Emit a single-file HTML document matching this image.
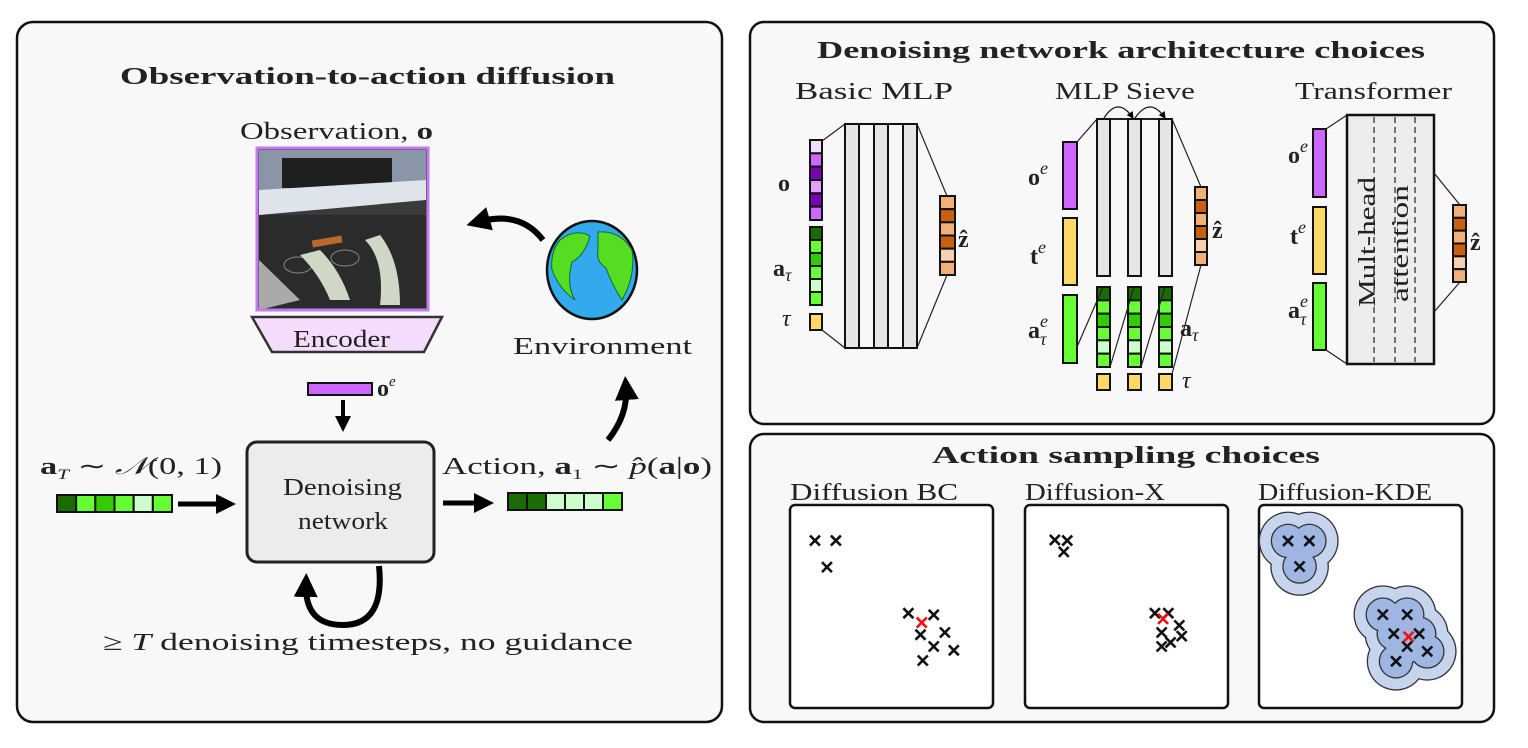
<!DOCTYPE html>
<html><head><meta charset="utf-8">
<style>
body{margin:0;background:#fff;}
svg{display:block;font-family:"Liberation Serif",serif;}
.t{font-size:24px;fill:#222;}
.b{font-weight:bold;}
</style></head>
<body>
<svg id="fig" width="1528" height="748" viewBox="0 0 1528 748">
<defs>
<marker id="ah" markerWidth="4" markerHeight="4" refX="2" refY="2" orient="auto" markerUnits="strokeWidth"><path d="M0,0 L4,2 L0,4 z" fill="#000"/></marker>
<marker id="sa" markerWidth="6" markerHeight="6" refX="5" refY="3" orient="auto"><path d="M0,0 L6,3 L0,6 z" fill="#000"/></marker>
</defs>

<!-- panels -->
<rect x="17" y="22" width="705" height="700" rx="16" fill="#f8f8f8" stroke="#111" stroke-width="2.5"/>
<rect x="750" y="22" width="744" height="402" rx="14" fill="#f8f8f8" stroke="#111" stroke-width="2.5"/>
<rect x="750" y="434" width="744" height="288" rx="14" fill="#f8f8f8" stroke="#111" stroke-width="2.5"/>

<text x="120" y="84" class="t b" font-size="26" textLength="495" lengthAdjust="spacingAndGlyphs">Observation-to-action diffusion</text>
<text x="817" y="58" class="t b" font-size="26" textLength="608" lengthAdjust="spacingAndGlyphs">Denoising network architecture choices</text>
<text x="932" y="463" class="t b" font-size="26" textLength="388" lengthAdjust="spacingAndGlyphs">Action sampling choices</text>

<!-- Left panel -->
<text x="240" y="139" class="t" font-size="24" textLength="193" lengthAdjust="spacingAndGlyphs">Observation, <tspan font-weight="bold">o</tspan></text>
<g>
<rect x="257" y="148" width="171" height="162" fill="#3a3a3a"/>
<rect x="259" y="150" width="167" height="40" fill="#8a96a8"/>
<rect x="282" y="158" width="110" height="30" fill="#1e1e1e"/>
<polygon points="259,190 426,180 426,200 259,215" fill="#dfe3ea"/>
<rect x="259" y="215" width="167" height="95" fill="#2b2b2b"/>
<polygon points="259,260 300,300 259,310" fill="#aaa"/>
<ellipse cx="298" cy="265" rx="14" ry="8" fill="none" stroke="#888"/>
<ellipse cx="345" cy="258" rx="14" ry="8" fill="none" stroke="#888"/>
<rect x="312" y="238" width="30" height="7" fill="#b8682a" transform="rotate(-10 327 241)"/>
<path d="M300,255 Q320,275 330,300 L350,300 Q340,270 320,250z M365,240 Q385,260 380,305 L400,305 Q400,260 380,235z" fill="#cfd8c6"/>
<rect x="257" y="148" width="171" height="162" fill="none" stroke="#c27bf0" stroke-width="3"/>
</g>
<polygon points="252,317 442,317 424,352 272,352" fill="#f5dcfc" stroke="#333" stroke-width="2.5"/>
<text x="293" y="347" class="t" font-size="24" textLength="97" lengthAdjust="spacingAndGlyphs">Encoder</text>
<rect x="308" y="383" width="64" height="12" fill="#cc66ff" stroke="#111" stroke-width="2"/>
<text x="377" y="396" class="t" font-size="24"><tspan font-weight="bold">o</tspan><tspan font-style="italic" font-size="15" dy="-10">e</tspan></text>
<line x1="343" y1="400" x2="343" y2="424" stroke="#000" stroke-width="4" marker-end="url(#ah)"/>
<rect x="247" y="442" width="187" height="120" rx="10" fill="#ececec" stroke="#222" stroke-width="3"/>
<text x="283" y="495" class="t" font-size="26" textLength="119" lengthAdjust="spacingAndGlyphs">Denoising</text>
<text x="298" y="529" class="t" font-size="26" textLength="90" lengthAdjust="spacingAndGlyphs">network</text>
<text x="40" y="474" class="t" font-size="25" textLength="182" lengthAdjust="spacingAndGlyphs"><tspan font-weight="bold">a</tspan><tspan font-style="italic" font-size="15" dy="5">T</tspan><tspan dy="-5"> ∼ </tspan><tspan font-style="italic">𝒩</tspan>(0, 1)</text>
<g id="noiseVec"></g>
<line x1="178" y1="504" x2="226" y2="504" stroke="#000" stroke-width="5" marker-end="url(#ah)"/>
<line x1="443" y1="503" x2="484" y2="503" stroke="#000" stroke-width="5" marker-end="url(#ah)"/>
<text x="442" y="474" class="t" font-size="25" textLength="270" lengthAdjust="spacingAndGlyphs">Action, <tspan font-weight="bold">a</tspan><tspan font-size="15" dy="5">1</tspan><tspan dy="-5"> ∼ </tspan><tspan font-style="italic">p̂</tspan>(<tspan font-weight="bold">a</tspan>|<tspan font-weight="bold">o</tspan>)</text>
<g id="actionVec"></g>
<g>
<ellipse cx="592" cy="270" rx="45" ry="49" fill="#33aaee" stroke="#111" stroke-width="2.5"/>
<path d="M560,240 Q575,228 590,236 Q585,255 572,262 Q566,285 575,300 Q560,290 552,270 Q550,252 560,240z" fill="#55dd22" stroke="#163" stroke-width="1"/>
<path d="M598,232 Q620,230 632,250 Q636,275 622,300 Q612,285 606,268 Q596,262 598,250z" fill="#55dd22" stroke="#163" stroke-width="1"/>
</g>
<text x="513" y="354" class="t" font-size="26" textLength="179" lengthAdjust="spacingAndGlyphs">Environment</text>
<path d="M543,240 Q520,210 478,222" fill="none" stroke="#000" stroke-width="6" marker-end="url(#ah)"/>
<path d="M608,440 Q628,415 626,388" fill="none" stroke="#000" stroke-width="6" marker-end="url(#ah)"/>
<path d="M379,566 Q385,625 343,625 Q305,625 306,585" fill="none" stroke="#000" stroke-width="6" marker-end="url(#ah)"/>
<text x="103" y="650" class="t" font-size="26" textLength="530" lengthAdjust="spacingAndGlyphs">≥ <tspan font-style="italic">T</tspan> denoising timesteps, no guidance</text>

<!-- Architecture panel -->
<text x="795" y="99" class="t" font-size="24" textLength="158" lengthAdjust="spacingAndGlyphs">Basic MLP</text>
<text x="1055" y="99" class="t" font-size="24" textLength="140" lengthAdjust="spacingAndGlyphs">MLP Sieve</text>
<text x="1295" y="99" class="t" font-size="24" textLength="157" lengthAdjust="spacingAndGlyphs">Transformer</text>
<g id="arch"></g>

<!-- Sampling panel -->
<text x="790" y="500" class="t" font-size="24" textLength="168" lengthAdjust="spacingAndGlyphs">Diffusion BC</text>
<text x="1025" y="500" class="t" font-size="24" textLength="140" lengthAdjust="spacingAndGlyphs">Diffusion-X</text>
<text x="1258" y="500" class="t" font-size="24" textLength="174" lengthAdjust="spacingAndGlyphs">Diffusion-KDE</text>
<g id="samp"></g>
</svg>
<script>
// Scatter data (x: 0-100 left to right, y: 0-100 top to bottom)
const bcX = [12.3,22.6,18.2,58.3,70.8,64.3,76.3,70.8,80.7,65.4];
const bcY = [17.5,17.5,30.6,53.3,54.1,63.9,62.8,69.7,71.6,76.6];
const bcSel = [64.9,57.9];
const dxX = [14.7,20.8,19.1,64,70.6,76,67.3,77.2,71.7,67.3];
const dxY = [17.2,17.5,23.1,53.3,53.3,59.3,62.8,64.6,67.7,69.7];
const dxSel = [68,56.1];
const kdeX = [14.3,24.8,20,61,73,66.4,78.9,73,82.9,67.5];
const kdeY = [17.7,17.7,30.3,54,54,63.4,63.4,69.7,72.1,77];
const kdeSel = [73.7,64.9];

const NS='http://www.w3.org/2000/svg';
function mk(tag,attrs,parent){const e=document.createElementNS(NS,tag);for(const k in attrs)e.setAttribute(k,attrs[k]);parent.appendChild(e);return e;}

const G1='#1a6b00',G2='#66ff33',G3='#33cc00',G4='#ccffcc';
const P1='#f3dcff',P2='#cc66ff',P3='#7a00b3',P4='#e0a0ff';
const O1='#f0b07a',O2='#c8600f',O3='#f8d0b0';
const Y='#ffd966';
function hvec(g,x,y,w,h,cols){const cw=w/cols.length;cols.forEach((c,i)=>{const r=mk('rect',{x:x+i*cw,y:y,width:cw,height:h,fill:c,stroke:'#111','stroke-width':2},g);

});}
function vvec(g,x,y,w,h,cols){const ch=h/cols.length;cols.forEach((c,i)=>{const r=mk('rect',{x:x,y:y+i*ch,width:w,height:ch,fill:c,stroke:'#111','stroke-width':2},g);

});}
hvec(document.getElementById('noiseVec'),57,495,115,17,[G1,G2,G3,G2,G4,G2]);
hvec(document.getElementById('actionVec'),508,493,114,17,[G1,G1,G4,G4,G4,G2]);

const A=document.getElementById('arch');
function ln(x1,y1,x2,y2,w){mk('line',{x1,y1,x2,y2,stroke:'#222','stroke-width':w||1.2},A);}
function txt(x,y,s,html){const t=mk('text',{x,y,class:'t','font-size':s||24},A);t.innerHTML=html;

return t;}
// Basic MLP
vvec(A,810,140,12,80,[P1,P2,P3,P4,P3,P2]);
vvec(A,810,227,12,78,[G1,G2,G3,G2,G4,G2]);
vvec(A,810,314,12,16,[Y]);
mk('rect',{x:845,y:124,width:72,height:224,fill:'none',stroke:'#111','stroke-width':2},A);
[845,874,903].forEach(x=>mk('rect',{x:x,y:124,width:14,height:224,fill:'#e6e6e6',stroke:'#111','stroke-width':2},A));
vvec(A,940,196,15,79,[O1,O2,O1,O2,O3,O1]);
ln(822,141,845,124);ln(822,330,845,348);ln(917,124,947,196);ln(917,348,947,275);
txt(778,191,30,'<tspan font-weight="bold">o</tspan>');
txt(773,276,30,'<tspan font-weight="bold">a</tspan><tspan font-style="italic" font-size="18" dy="5">τ</tspan>');
txt(782,326,26,'<tspan font-style="italic">τ</tspan>');
txt(958,247,30,'<tspan font-weight="bold">ẑ</tspan>');
// MLP Sieve
mk('rect',{x:1063,y:142,width:14,height:67,fill:P2,stroke:'#111','stroke-width':2},A);
mk('rect',{x:1063,y:218,width:14,height:67,fill:Y,stroke:'#111','stroke-width':2},A);
mk('rect',{x:1063,y:295,width:14,height:68,fill:G2,stroke:'#111','stroke-width':2},A);
ln(1097,119,1172,119,2);
const sx=[1097,1128,1159];
sx.forEach((x,i)=>{mk('rect',{x:x,y:119,width:13,height:157,fill:'#e6e6e6',stroke:'#111','stroke-width':2},A);
vvec(A,x,287,13,80,[G1,G2,G3,G2,G4,G2]);vvec(A,x,374,13,16,[Y]);});
mk('path',{d:'M1104,118 Q1118,96 1133,118',fill:'none',stroke:'#111','stroke-width':1.2,'marker-end':'url(#sa)'},A);
mk('path',{d:'M1135,118 Q1150,96 1165,118',fill:'none',stroke:'#111','stroke-width':1.2,'marker-end':'url(#sa)'},A);
vvec(A,1195,187,12,78,[O1,O2,O1,O2,O3,O1]);
ln(1077,142,1097,119);ln(1077,347,1103,287);ln(1110,367,1134,287);ln(1141,367,1165,287);ln(1172,374,1201,265);ln(1172,119,1201,187);
txt(1028,185,30,'<tspan font-weight="bold">o</tspan><tspan font-style="italic" font-size="18" dy="-11">e</tspan>');
txt(1030,264,30,'<tspan font-weight="bold">t</tspan><tspan font-style="italic" font-size="18" dy="-11">e</tspan>');
txt(1028,338,30,'<tspan font-weight="bold">a</tspan><tspan font-style="italic" font-size="18" dy="-11">e</tspan><tspan font-style="italic" font-size="18" dx="-8" dy="18">τ</tspan>');
txt(1180,336,30,'<tspan font-weight="bold">a</tspan><tspan font-style="italic" font-size="18" dy="5">τ</tspan>');
txt(1182,388,26,'<tspan font-style="italic">τ</tspan>');
txt(1212,238,30,'<tspan font-weight="bold">ẑ</tspan>');
// Transformer
mk('rect',{x:1313,y:129,width:13,height:68,fill:P2,stroke:'#111','stroke-width':2},A);
mk('rect',{x:1313,y:207,width:13,height:67,fill:Y,stroke:'#111','stroke-width':2},A);
mk('rect',{x:1313,y:283,width:13,height:67,fill:G2,stroke:'#111','stroke-width':2},A);
mk('rect',{x:1347,y:115,width:87,height:249,fill:'#ececec',stroke:'#111','stroke-width':2.5},A);
[1374,1395,1415].forEach(x=>mk('line',{x1:x,y1:117,x2:x,y2:362,stroke:'#222','stroke-width':1.2,'stroke-dasharray':'6,4'},A));
const r1=txt(0,0,22,'Mult-head');r1.setAttribute('transform','translate(1375,307) rotate(-90)');r1.setAttribute('fill','#444');r1.setAttribute('textLength','130');r1.setAttribute('lengthAdjust','spacingAndGlyphs');
const r2=txt(0,0,22,'attention');r2.setAttribute('transform','translate(1408,302) rotate(-90)');r2.setAttribute('fill','#444');r2.setAttribute('textLength','117');r2.setAttribute('lengthAdjust','spacingAndGlyphs');
vvec(A,1453,205,13,77,[O1,O2,O1,O2,O3,O1]);
ln(1326,129,1347,115);ln(1326,350,1347,364);ln(1434,173,1460,205);ln(1434,312,1460,282);
txt(1288,163,30,'<tspan font-weight="bold">o</tspan><tspan font-style="italic" font-size="18" dy="-11">e</tspan>');
txt(1290,244,30,'<tspan font-weight="bold">t</tspan><tspan font-style="italic" font-size="18" dy="-11">e</tspan>');
txt(1288,318,30,'<tspan font-weight="bold">a</tspan><tspan font-style="italic" font-size="18" dy="-11">e</tspan><tspan font-style="italic" font-size="18" dx="-8" dy="18">τ</tspan>');
txt(1470,250,30,'<tspan font-weight="bold">ẑ</tspan>');

// Sampling plots
const S=document.getElementById('samp');
const boxes=[{x:790,xs:bcX,ys:bcY,sel:bcSel,kde:false,name:'diffusion-bc-plot'},{x:1025,xs:dxX,ys:dxY,sel:dxSel,kde:false,name:'diffusion-x-plot'},{x:1259,xs:kdeX,ys:kdeY,sel:kdeSel,kde:true,name:'diffusion-kde-plot'}];
const BW=203,BH=203,BY=505;
boxes.forEach(b=>{
  const g=mk('g',{},S);
  
  
  mk('rect',{x:b.x,y:BY,width:BW,height:BH,rx:5,fill:'#fff',stroke:'#111','stroke-width':2.5},g);
  const sxf=v=>b.x+v/100*BW, syf=v=>BY+v/100*BH;
  if(b.kde){
    const layers=[[28,'#c6d4ee'],[16,'#9fb6e2']];
    layers.forEach(([r,c])=>{
      b.xs.forEach((v,i)=>mk('circle',{cx:sxf(v),cy:syf(b.ys[i]),r:r+1.3,fill:'#333'},g));
      b.xs.forEach((v,i)=>mk('circle',{cx:sxf(v),cy:syf(b.ys[i]),r:r,fill:c},g));
    });
  }
  const cross=(x,y,col,nm)=>{const p=mk('path',{d:`M${x-5},${y-5}L${x+5},${y+5}M${x+5},${y-5}L${x-5},${y+5}`,stroke:col,'stroke-width':2.6,fill:'none'},g);
    
    };
  b.xs.forEach((v,i)=>cross(sxf(v),syf(b.ys[i]),'#111','sample-point'));
  cross(sxf(b.sel[0]),syf(b.sel[1]),'#ee1111','selected-action');
});
</script>
</body></html>
